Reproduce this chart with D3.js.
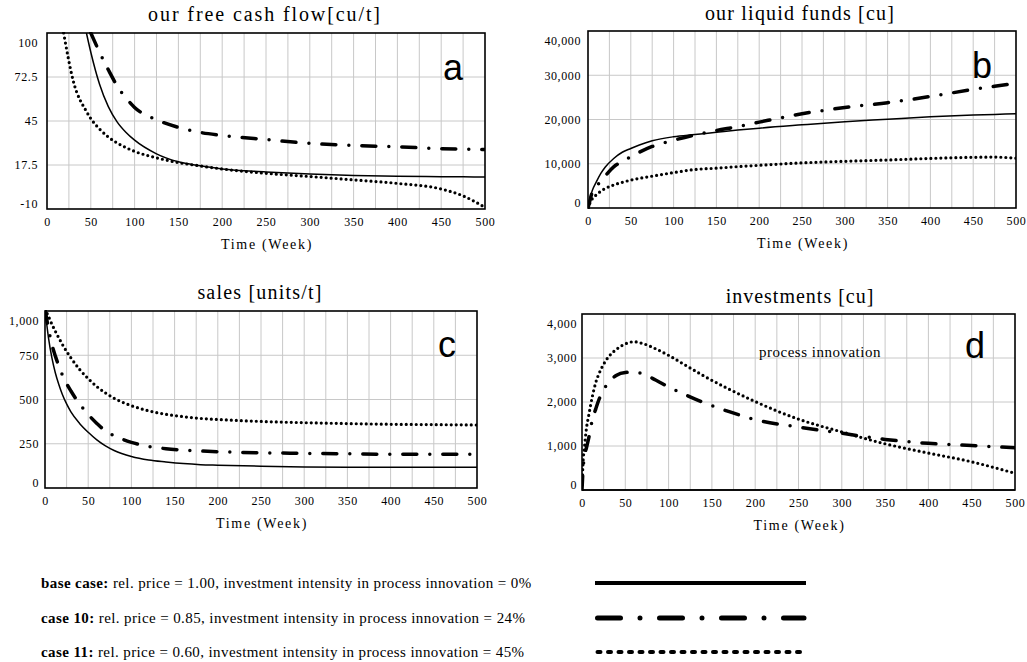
<!DOCTYPE html>
<html>
<head>
<meta charset="utf-8">
<script src="https://cdn.jsdelivr.net/npm/d3@7"></script>
<style>
  body { margin: 0; background: #fff; }
  svg text { font-family: "Liberation Serif", "Times New Roman", serif; fill: #000; }
  .tick text { font-size: 12px; letter-spacing: 0.6px; }
  .panel-title { font-size: 20px; letter-spacing: 1px; }
  .axis-label { font-size: 14px; letter-spacing: 1.7px; }
  .panel-letter { font-family: "Liberation Sans", Arial, sans-serif !important; font-size: 36px; }
  .note { font-size: 15px; letter-spacing: 0.5px; }
  .legend-text { font-size: 15px; letter-spacing: 0.4px; }
</style>
</head>
<body>
<svg id="chart" width="1027" height="662"></svg>
<script>
// ---- data ----
const weekTicks = [0, 50, 100, 150, 200, 250, 300, 350, 400, 450, 500];
const gridWeeks = d3.range(25, 500, 25);

// a: our free cash flow [cu/t]
const cashTicks = [-10, 17.5, 45, 72.5, 100];
const cashWeeks = [19, 30, 45, 50, 60, 70, 80, 90, 100, 125, 150, 175, 200, 250, 300, 350, 400, 450, 475, 500];
const cashBase = [null, null, 100, 88, 68, 54, 44.5, 38, 33, 24.5, 19.5, 17, 15, 13.2, 11.8, 10.9, 10.4, 10.2, 10.1, 10];
const cashCase10 = [null, null, null, 100, 88, 77, 67, 59.5, 53.5, 45.8, 41, 37.8, 36, 33.4, 31, 29.7, 28.9, 27.7, 27.4, 27.2];
const cashCase11 = [100, 70, 51, 46.5, 40, 35, 31.3, 28.4, 26, 22, 19, 16.9, 15, 12.3, 10.3, 8.2, 6, 2.5, -1.8, -9];

// b: our liquid funds [cu]
const fundsTicks = [0, 10000, 20000, 30000, 40000];
const fundsWeeks = [0, 2, 5, 10, 15, 20, 30, 40, 50, 60, 75, 100, 125, 150, 175, 200, 250, 300, 350, 400, 450, 475, 500];
const fundsBase = [0, 2000, 3950, 6000, 7800, 9200, 11200, 12600, 13450, 14250, 15200, 16100, 16600, 17100, 17600, 18050, 18800, 19500, 20050, 20600, 21000, 21150, 21300];
const fundsCase10 = [0, 1500, 3600, 5000, 6000, 7200, 9300, 10500, 11600, 12600, 13900, 15300, 16500, 17500, 18400, 19400, 21300, 22700, 23800, 25200, 26800, 27500, 28200];
const fundsCase11 = [0, 1000, 2100, 3000, 3800, 4400, 5200, 5800, 6300, 6700, 7200, 8000, 8700, 9000, 9350, 9650, 10200, 10550, 10850, 11200, 11450, 11500, 11250];

// c: sales [units/t]
const salesTicks = [0, 250, 500, 750, 1000];
const salesWeeks = [0, 4, 8, 12, 16, 20, 25, 30, 40, 50, 60, 70, 80, 100, 120, 140, 160, 180, 200, 250, 300, 350, 400, 450, 500];
const salesBase = [1010, 850, 735, 650, 585, 530, 475, 430, 365, 315, 272, 238, 212, 178, 158, 147, 138, 132, 129, 123, 119, 117, 117, 117, 117];
const salesCase10 = [1010, 900, 810, 745, 690, 640, 590, 548, 475, 415, 365, 322, 295, 258, 235, 222, 214, 209, 205, 199, 196, 193, 190, 190, 190];
const salesCase11 = [1010, 970, 925, 885, 848, 812, 772, 735, 670, 618, 573, 537, 507, 465, 436, 416, 403, 393, 387, 376, 369, 364, 360, 358, 356];

// d: investments [cu] (process innovation)
const investTicks = [0, 1000, 2000, 3000, 4000];
const investWeeks = [0, 1, 3, 5, 8, 12, 16, 20, 25, 30, 40, 50, 60, 70, 85, 100, 120, 140, 170, 200, 250, 300, 350, 400, 450, 500];
const investBase = [0, 0, 0, 0, 0, 0, 0, 0, 0, 0, 0, 0, 0, 0, 0, 0, 0, 0, 0, 0, 0, 0, 0, 0, 0, 0];
const investCase10 = [0, 400, 800, 950, 1200, 1600, 1850, 2075, 2280, 2430, 2610, 2670, 2680, 2640, 2500, 2340, 2160, 1990, 1780, 1600, 1430, 1290, 1150, 1060, 1010, 960];
const investCase11 = [0, 550, 1000, 1380, 1720, 2130, 2450, 2660, 2860, 3010, 3200, 3320, 3370, 3330, 3210, 3060, 2830, 2600, 2290, 2010, 1610, 1320, 1050, 840, 640, 380];

// legend
const caseNames = ["base case:", "case 10:", "case 11:"];
const caseTexts = [
  " rel. price = 1.00, investment intensity in process innovation = 0%",
  " rel. price = 0.85, investment intensity in process innovation = 24%",
  " rel. price = 0.60, investment intensity in process innovation = 45%"
];

// ---- line styles for the three cases ----
const lineStyles = [
  {width: 1.5, dash: null, cap: "butt"},
  {width: 3.5, dash: "14,13,0,13", cap: "round"},
  {width: 3.2, dash: "0,5", cap: "round"}
];
const legendStyles = [
  {width: 4, dash: null, cap: "butt"},
  {width: 5, dash: "23,19.5,0,19.5", cap: "round"},
  {width: 4, dash: "3,7.5", cap: "round"}
];

const commaFmt = d3.format(",");

const panels = [
  {letter: "a", title: "our free cash flow[cu/t]", titleSpacing: 1.9, box: [47, 485, 33, 209], pad: 9,
   ticks: cashTicks, fmt: d => String(d), weeks: cashWeeks, series: [cashBase, cashCase10, cashCase11],
   letterPos: [453, 80], titlePos: [265, 21]},
  {letter: "b", title: "our liquid funds [cu]", titleSpacing: 1.2, box: [588, 1016, 31, 208], pad: 7,
   ticks: fundsTicks, fmt: commaFmt, weeks: fundsWeeks, series: [fundsBase, fundsCase10, fundsCase11],
   letterPos: [982, 78], titlePos: [800, 20]},
  {letter: "c", title: "sales [units/t]", titleSpacing: 1.2, box: [45, 477, 311, 488], pad: 6,
   ticks: salesTicks, fmt: commaFmt, weeks: salesWeeks, series: [salesBase, salesCase10, salesCase11],
   letterPos: [447, 357], titlePos: [260, 299]},
  {letter: "d", title: "investments [cu]", titleSpacing: 1, box: [582, 1015, 314, 490], pad: 5,
   ticks: investTicks, fmt: commaFmt, weeks: investWeeks, series: [investBase, investCase10, investCase11],
   letterPos: [975, 358], titlePos: [800, 303]}
];

const svg = d3.select("#chart");

panels.forEach((p, i) => {
  const [left, right, top, bottom] = p.box;
  const x = d3.scaleLinear().domain([0, 500]).range([left, right]);
  const y = d3.scaleLinear().domain([p.ticks[0], p.ticks[p.ticks.length - 1]]).range([bottom, top]);
  const g = svg.append("g").attr("class", "panel-" + p.letter);

  // grid lines
  g.append("g").selectAll("line").data(gridWeeks).join("line")
    .attr("x1", d => x(d)).attr("x2", d => x(d))
    .attr("y1", top).attr("y2", bottom)
    .attr("stroke", "#c8c8c8").attr("stroke-width", 1);
  g.append("g").selectAll("line").data(p.ticks.slice(1, -1)).join("line")
    .attr("x1", left).attr("x2", right)
    .attr("y1", d => y(d)).attr("y2", d => y(d))
    .attr("stroke", "#c8c8c8").attr("stroke-width", 1);

  // clip so the curves stay inside the frame
  svg.append("clipPath").attr("id", "clip-" + i)
    .append("rect").attr("x", left).attr("y", top - 1)
    .attr("width", right - left).attr("height", bottom - top + 2);

  const line = d3.line()
    .defined(d => d[1] !== null)
    .x(d => x(d[0]))
    .y(d => y(d[1]))
    .curve(d3.curveMonotoneX);

  p.series.forEach((vals, k) => {
    const st = lineStyles[k];
    g.append("path")
      .datum(p.weeks.map((w, j) => [w, vals[j]]))
      .attr("clip-path", `url(#clip-${i})`)
      .attr("fill", "none")
      .attr("stroke", "#000")
      .attr("stroke-width", st.width)
      .attr("stroke-linecap", st.cap)
      .attr("stroke-linejoin", "round")
      .attr("stroke-dasharray", st.dash)
      .attr("d", line);
  });

  // frame
  g.append("rect")
    .attr("x", left).attr("y", top)
    .attr("width", right - left).attr("height", bottom - top)
    .attr("fill", "none").attr("stroke", "#000").attr("stroke-width", 1.6);

  // axes
  g.append("g")
    .attr("transform", `translate(0,${bottom})`)
    .call(d3.axisBottom(x).tickValues(weekTicks).tickSize(0).tickPadding(8))
    .call(a => a.select(".domain").remove());

  const yAxis = g.append("g")
    .attr("transform", `translate(${left},0)`)
    .call(d3.axisLeft(y).tickValues(p.ticks).tickSize(0).tickPadding(p.pad).tickFormat(p.fmt))
    .call(a => a.select(".domain").remove());
  // end labels sit inside the frame height
  yAxis.selectAll(".tick text")
    .attr("transform", (d, j) => j === p.ticks.length - 1 ? "translate(0,10)" : (j === 0 ? "translate(0,-5)" : null));

  // titles
  g.append("text").attr("class", "panel-title")
    .attr("x", p.titlePos[0]).attr("y", p.titlePos[1])
    .style("letter-spacing", p.titleSpacing + "px")
    .attr("text-anchor", "middle").text(p.title);
  g.append("text").attr("class", "axis-label")
    .attr("x", (left + right) / 2 + 1).attr("y", bottom + 40)
    .attr("text-anchor", "middle").text("Time (Week)");
  g.append("text").attr("class", "panel-letter")
    .attr("x", p.letterPos[0]).attr("y", p.letterPos[1])
    .attr("text-anchor", "middle").text(p.letter);
});

svg.append("text").attr("class", "note")
  .attr("x", 820).attr("y", 357)
  .attr("text-anchor", "middle").text("process innovation");

// legend
const legendY = [583, 618, 652];
const legend = svg.append("g").attr("class", "legend");
caseNames.forEach((name, k) => {
  const t = legend.append("text").attr("class", "legend-text")
    .attr("x", 41).attr("y", legendY[k] + 5);
  t.append("tspan").attr("font-weight", "bold").text(name);
  t.append("tspan").text(caseTexts[k]);
  const st = legendStyles[k];
  legend.append("line")
    .attr("x1", k === 0 ? 595 : 597.5).attr("x2", k === 0 ? 806 : 804)
    .attr("y1", legendY[k]).attr("y2", legendY[k])
    .attr("stroke", "#000")
    .attr("stroke-width", st.width)
    .attr("stroke-linecap", st.cap)
    .attr("stroke-dasharray", st.dash);
});
</script>
</body>
</html>
